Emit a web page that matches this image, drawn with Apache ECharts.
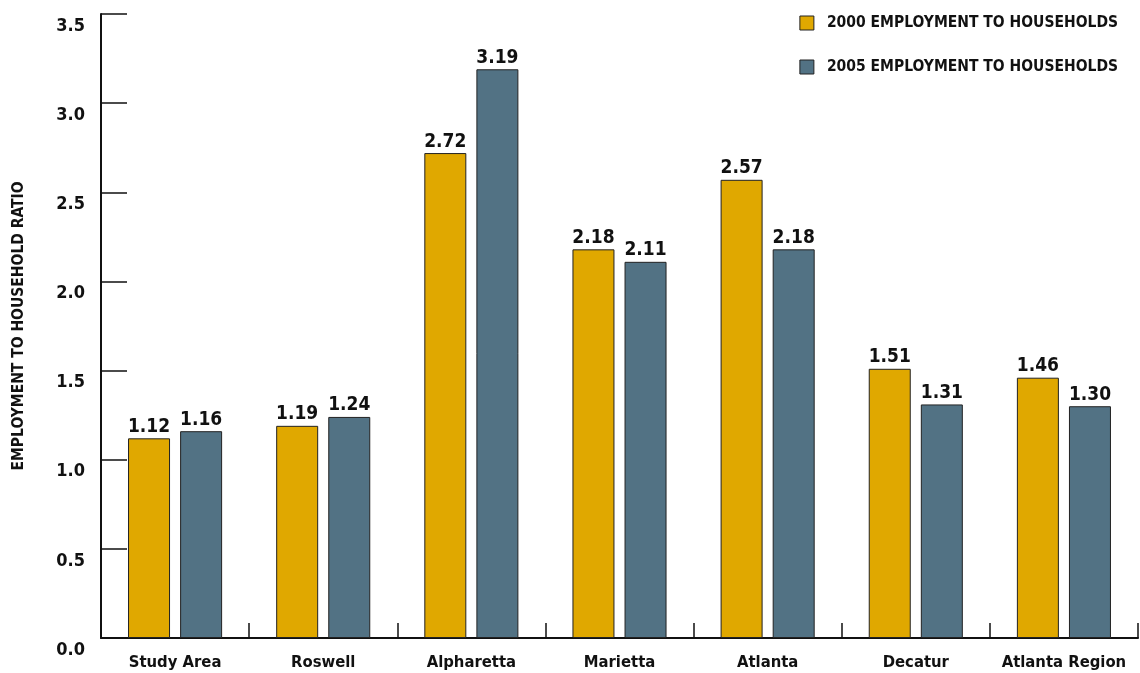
<!DOCTYPE html>
<html><head><meta charset="utf-8">
<script src="https://cdn.jsdelivr.net/npm/echarts@6/dist/echarts.min.js"></script>
<style>html,body{margin:0;padding:0;background:#fff}#c{width:1140px;height:673px}</style>
</head><body><div id="c"></div>
<script>
const categories = ['Study Area','Roswell','Alpharetta','Marietta','Atlanta','Decatur','Atlanta Region'];
const values2000 = [1.12,1.19,2.72,2.18,2.57,1.51,1.46];
const values2005 = [1.16,1.24,3.19,2.11,2.18,1.31,1.30];
const seriesNames = ['2000 EMPLOYMENT TO HOUSEHOLDS','2005 EMPLOYMENT TO HOUSEHOLDS'];
const FONT = '"DejaVu Sans Condensed","Liberation Sans Narrow",sans-serif';
const chart = echarts.init(document.getElementById('c'));
const lbl = {show:true,position:'top',distance:2,color:'#111',fontFamily:FONT,fontWeight:'bold',fontSize:19,formatter:p=>p.value.toFixed(2)};
chart.setOption({
  animation:false,
  textStyle:{fontFamily:FONT},
  grid:{left:101,right:2,top:14,bottom:35,containLabel:false,outerBoundsMode:'none'},
  legend:{orient:'vertical',right:17,top:10,itemWidth:14,itemHeight:14,itemGap:28,
    icon:'rect',
    itemStyle:{borderColor:'#222',borderWidth:1},
    textStyle:{fontFamily:FONT,fontWeight:'bold',fontSize:15.5,color:'#111',padding:[0,0,0,8]},
    data:seriesNames},
  xAxis:{type:'category',data:categories,
    axisLine:{lineStyle:{color:'#111',width:2}},
    axisTick:{show:true,inside:true,interval:0,length:15,lineStyle:{color:'#111',width:1.5}},
    axisLabel:{interval:0,color:'#111',fontFamily:FONT,fontWeight:'bold',fontSize:16.5,margin:16}},
  yAxis:{type:'value',min:0,max:3.5,interval:0.5,
    name:'EMPLOYMENT TO HOUSEHOLD RATIO',nameLocation:'middle',nameGap:74,
    nameTextStyle:{color:'#111',fontFamily:FONT,fontWeight:'bold',fontSize:15.5},
    axisLine:{show:true,lineStyle:{color:'#111',width:2}},
    axisTick:{show:true,inside:true,length:26,lineStyle:{color:'#111',width:1.5}},
    splitLine:{show:false},
    axisLabel:{color:'#111',fontFamily:FONT,fontWeight:'bold',fontSize:18,margin:16,verticalAlign:'top',padding:[3,0,0,0],formatter:v=>v.toFixed(1)}},
  series:[
    {name:seriesNames[0],type:'bar',data:values2000,barWidth:42,barGap:'24%',
      itemStyle:{color:'#E0A800',borderColor:'#222',borderWidth:1},label:lbl},
    {name:seriesNames[1],type:'bar',data:values2005,barWidth:42,
      itemStyle:{color:'#527284',borderColor:'#222',borderWidth:1},label:lbl}
  ]
});
</script></body></html>
